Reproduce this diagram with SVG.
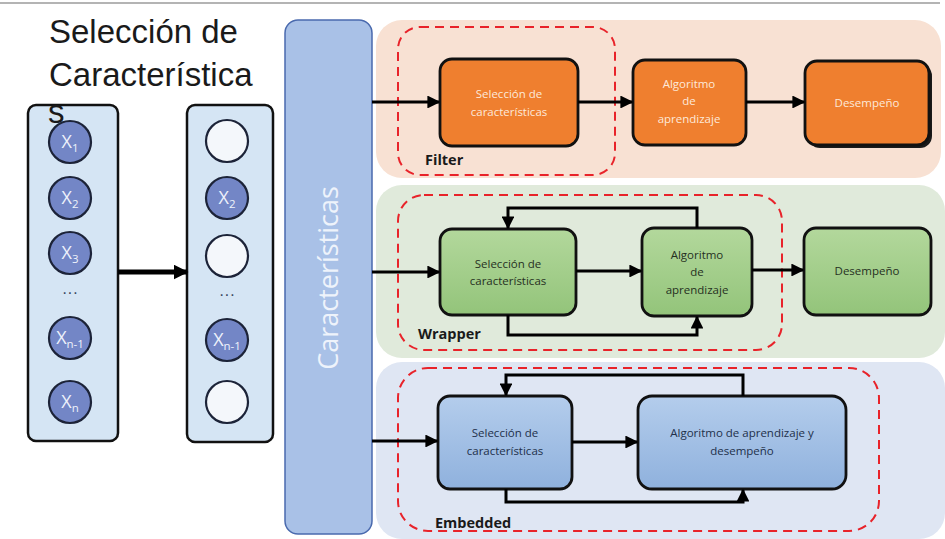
<svg xmlns="http://www.w3.org/2000/svg" width="945" height="539" viewBox="0 0 945 539">
  <defs>
    <marker id="arr" viewBox="0 0 10 10" refX="9" refY="5" markerWidth="4.3" markerHeight="4.3" orient="auto" markerUnits="strokeWidth">
      <path d="M0,0 L10,5 L0,10 z" fill="#000"/>
    </marker>
    <marker id="arrBig" viewBox="0 0 10 10" refX="9" refY="5" markerWidth="3" markerHeight="3" orient="auto" markerUnits="strokeWidth">
      <path d="M0,0 L10,5 L0,10 z" fill="#000"/>
    </marker>
    <linearGradient id="gGreen" x1="0" y1="0" x2="0" y2="1">
      <stop offset="0" stop-color="#b3d89c"/>
      <stop offset="1" stop-color="#93c47a"/>
    </linearGradient>
    <linearGradient id="gBlue" x1="0" y1="0" x2="0" y2="1">
      <stop offset="0" stop-color="#b4cdec"/>
      <stop offset="1" stop-color="#8fb1dd"/>
    </linearGradient>
  </defs>
  <style>
    .title { font-family: "Liberation Sans", Arial, sans-serif; font-size: 33px; fill: #1a1a1a; }
    .colbox { fill: #d5e5f4; stroke: #111; stroke-width: 2.5; }
    .feat { fill: #7386c6; stroke: #1c2338; stroke-width: 2.2; }
    .empty { fill: #f4f7fb; stroke: #1c2338; stroke-width: 2.2; }
    .xl { font-family: "Open Sans", "Liberation Sans", sans-serif; font-size: 18px; fill: #eef2fb; text-anchor: middle; }
    .xl .sub { font-size: 11.5px; }
    .dots { font-family: "Liberation Sans", sans-serif; font-size: 16px; fill: #3a4660; text-anchor: middle; }
    .node { stroke: #111; stroke-width: 2.8; }
    .orange { fill: #ef7f2f; }
    .green { fill: url(#gGreen); }
    .blue { fill: url(#gBlue); }
    .lbl { font-family: "Open Sans", "Liberation Sans", sans-serif; font-size: 11.5px; text-anchor: middle; }
    .lo { fill: #fde9da; }
    .ld { fill: #26301f; }
    .lb { fill: #22304a; }
    .dash { fill: none; stroke: #e8232a; stroke-width: 2; stroke-dasharray: 9 6; }
    .tag { font-family: "Open Sans", "Liberation Sans", sans-serif; font-size: 14.5px; font-weight: bold; fill: #1a1a1a; }
    .conn { fill: none; stroke: #000; stroke-width: 3; marker-end: url(#arr); }
  </style>

  <rect width="945" height="539" fill="#ffffff"/>
  <line x1="0" y1="3" x2="940" y2="3" stroke="#b4b4b4" stroke-width="2"/>

  <!-- method panels -->
  <g id="panel-filter">
    <rect x="376" y="20" width="565" height="158" rx="26" fill="#f8e1d3"/>
  </g>
  <g id="panel-wrapper">
    <rect x="376" y="185" width="569" height="173" rx="26" fill="#e0eadb"/>
  </g>
  <g id="panel-embedded">
    <rect x="376" y="362" width="569" height="177" rx="26" fill="#dfe6f3"/>
  </g>

  <!-- full feature set -->
  <g id="all-features">
    <rect class="colbox" x="28" y="105" width="90" height="336" rx="8"/>
    <circle class="feat" cx="70" cy="142" r="21"/>
    <text class="xl" x="70" y="148">X<tspan class="sub" dy="4">1</tspan></text>
    <circle class="feat" cx="70" cy="198" r="21"/>
    <text class="xl" x="70" y="204">X<tspan class="sub" dy="4">2</tspan></text>
    <circle class="feat" cx="70" cy="253" r="21"/>
    <text class="xl" x="70" y="259">X<tspan class="sub" dy="4">3</tspan></text>
    <text class="dots" x="70" y="298">···</text>
    <circle class="feat" cx="70" cy="338" r="21"/>
    <text class="xl" x="70" y="344">X<tspan class="sub" dy="4">n-1</tspan></text>
    <circle class="feat" cx="70" cy="402" r="21"/>
    <text class="xl" x="70" y="408">X<tspan class="sub" dy="4">n</tspan></text>
  </g>

  <!-- selected subset -->
  <g id="subset">
    <rect class="colbox" x="187" y="105" width="86" height="337" rx="8"/>
    <circle class="empty" cx="227" cy="141" r="21"/>
    <circle class="feat" cx="227" cy="198" r="21"/>
    <text class="xl" x="227" y="204">X<tspan class="sub" dy="4">2</tspan></text>
    <circle class="empty" cx="227" cy="256" r="21"/>
    <text class="dots" x="227" y="300">···</text>
    <circle class="feat" cx="227" cy="340" r="21"/>
    <text class="xl" x="227" y="346">X<tspan class="sub" dy="4">n-1</tspan></text>
    <circle class="empty" cx="227" cy="402" r="21"/>
  </g>

  <!-- heading -->
  <g id="heading">
    <text class="title" x="49" y="43">Selección de</text>
    <text class="title" x="49" y="86">Característica</text>
    <text class="title" x="48" y="123">s</text>
  </g>

  <!-- features column -->
  <g id="features">
    <rect x="285" y="20" width="87" height="514" rx="13" fill="#a9c1e7" stroke="#4a6aae" stroke-width="1.5"/>
    <text x="0" y="0" transform="translate(338,278) rotate(-90)" font-family="Open Sans, Liberation Sans, sans-serif" font-size="27" fill="#eef3fb" text-anchor="middle">Características</text>
  </g>

  <!-- Filter -->
  <g id="filter-sel">
    <rect class="node orange" x="440" y="59" width="138" height="87" rx="12"/>
    <text class="lbl lo" x="509" y="98">Selección de</text>
    <text class="lbl lo" x="509" y="116">características</text>
  </g>
  <g id="filter-alg">
    <rect class="node orange" x="633" y="60" width="113" height="85" rx="12"/>
    <text class="lbl lo" x="689" y="88">Algoritmo</text>
    <text class="lbl lo" x="689" y="105">de</text>
    <text class="lbl lo" x="689" y="123">aprendizaje</text>
  </g>
  <g id="filter-perf">
    <rect x="808" y="64" width="124" height="84" rx="12" fill="#1a1a1a"/>
    <rect class="node orange" x="805" y="61" width="124" height="84" rx="12"/>
    <text class="lbl lo" x="867" y="107">Desempeño</text>
  </g>
  <g id="filter-group">
    <rect class="dash" x="398" y="27" width="217" height="148" rx="22"/>
    <text class="tag" x="425" y="165">Filter</text>
  </g>

  <!-- Wrapper -->
  <g id="wrapper-sel">
    <rect class="node green" x="440" y="229" width="136" height="86" rx="12"/>
    <text class="lbl ld" x="508" y="268">Selección de</text>
    <text class="lbl ld" x="508" y="285">características</text>
  </g>
  <g id="wrapper-alg">
    <rect class="node green" x="642" y="228" width="110" height="88" rx="12"/>
    <text class="lbl ld" x="697" y="259">Algoritmo</text>
    <text class="lbl ld" x="697" y="276">de</text>
    <text class="lbl ld" x="697" y="294">aprendizaje</text>
  </g>
  <g id="wrapper-perf">
    <rect class="node green" x="804" y="228" width="127" height="87" rx="12"/>
    <text class="lbl ld" x="867" y="275">Desempeño</text>
  </g>
  <g id="wrapper-group">
    <rect class="dash" x="398" y="195" width="384" height="155" rx="26"/>
    <text class="tag" x="418" y="339">Wrapper</text>
  </g>

  <!-- Embedded -->
  <g id="embedded-sel">
    <rect class="node blue" x="438" y="396" width="134" height="93" rx="12"/>
    <text class="lbl lb" x="505" y="437">Selección de</text>
    <text class="lbl lb" x="505" y="455">características</text>
  </g>
  <g id="embedded-alg">
    <rect class="node blue" x="638" y="396" width="208" height="93" rx="14"/>
    <text class="lbl lb" x="742" y="437">Algoritmo de aprendizaje y</text>
    <text class="lbl lb" x="742" y="455">desempeño</text>
  </g>
  <g id="embedded-group">
    <rect class="dash" x="398" y="368" width="481" height="163" rx="30"/>
    <text class="tag" x="435" y="528">Embedded</text>
  </g>

  <!-- connectors -->
  <g id="connectors">
    <line x1="118" y1="272" x2="187" y2="272" stroke="#000" stroke-width="5" marker-end="url(#arrBig)"/>

    <line class="conn" x1="372" y1="102" x2="439" y2="102"/>
    <line class="conn" x1="578" y1="102" x2="632" y2="102"/>
    <line class="conn" x1="746" y1="102" x2="804" y2="102"/>

    <line class="conn" x1="372" y1="272" x2="439" y2="272"/>
    <line class="conn" x1="576" y1="271" x2="641" y2="271"/>
    <line class="conn" x1="752" y1="270" x2="803" y2="270"/>
    <polyline class="conn" points="697,228 697,208 508,208 508,228"/>
    <polyline class="conn" points="508,315 508,335 697,335 697,317"/>

    <line class="conn" x1="372" y1="441" x2="437" y2="441"/>
    <line class="conn" x1="572" y1="442" x2="637" y2="442"/>
    <polyline class="conn" points="743,396 743,375 506,375 506,395"/>
    <polyline class="conn" points="506,489 506,502 743,502 743,490"/>
  </g>
</svg>
